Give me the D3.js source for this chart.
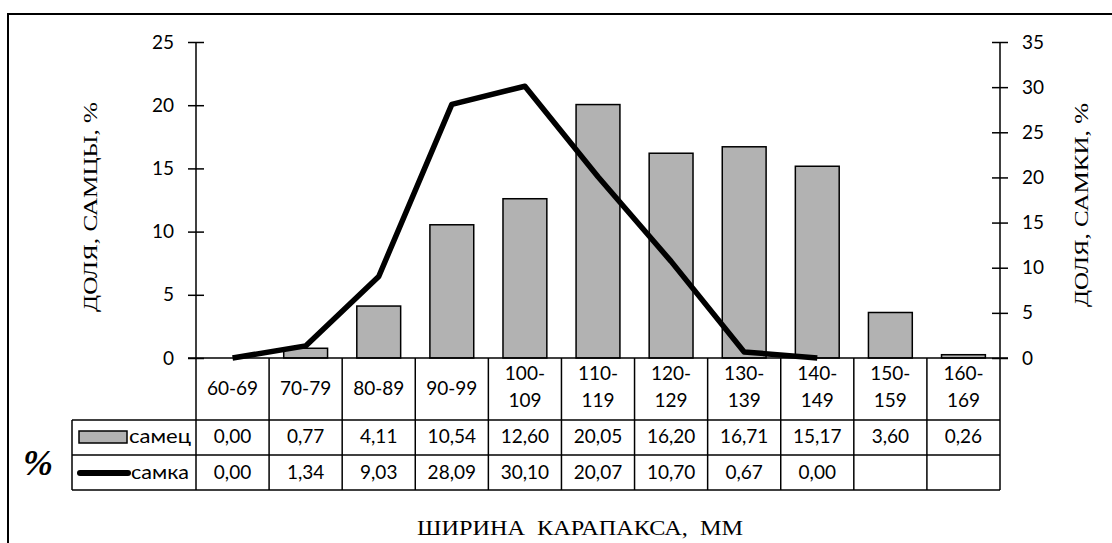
<!DOCTYPE html>
<html><head><meta charset="utf-8">
<script src="https://d3js.org/d3.v7.min.js"></script>
<style>body{margin:0;background:#fff}svg{display:block}
.serif{font-family:"Liberation Serif","Tinos","Times New Roman","DejaVu Serif","Noto Serif",serif}
.sans{font-family:"Lato","Open Sans","Liberation Sans",sans-serif}
.pre{white-space:pre}
</style>
</head><body>
<script>
const categories = ["60-69","70-79","80-89","90-99","100-109","110-119","120-129","130-139","140-149","150-159","160-169"];
const maleValues = [0.00,0.77,4.11,10.54,12.60,20.05,16.20,16.71,15.17,3.60,0.26];
const femaleValues = [0.00,1.34,9.03,28.09,30.10,20.07,10.70,0.67,0.00,null,null];
const maleLabels = ["0,00","0,77","4,11","10,54","12,60","20,05","16,20","16,71","15,17","3,60","0,26"];
const femaleLabels = ["0,00","1,34","9,03","28,09","30,10","20,07","10,70","0,67","0,00","",""];
const leftTicks = [0,5,10,15,20,25];
const rightTicks = [0,5,10,15,20,25,30,35];

const W=1112,H=543;
const svg=d3.select("body").append("svg").attr("width",W).attr("height",H);
const FS=19;

// outer frame
svg.append("rect").attr("x",8).attr("y",14).attr("width",W).attr("height",H).attr("fill","none").attr("stroke","#000").attr("stroke-width",2);

const x0=196,x1=1000,yTop=42,yBot=358;
const x=d3.scaleBand().domain(categories).range([x0,x1]).paddingInner(0.4).paddingOuter(0.2);
const xb=d3.scaleBand().domain(categories).range([x0,x1]);
const yL=d3.scaleLinear().domain([0,25]).range([yBot,yTop]);
const yR=d3.scaleLinear().domain([0,35]).range([yBot,yTop]);

// bars
svg.append("g").selectAll("rect").data(categories).join("rect")
  .attr("x",d=>x(d)).attr("width",x.bandwidth())
  .attr("y",(d,i)=>yL(maleValues[i])).attr("height",(d,i)=>yBot-yL(maleValues[i]))
  .attr("fill","#b2b2b2").attr("stroke","#000").attr("stroke-width",1.5);

// line
const pts=categories.map((c,i)=>[c,femaleValues[i]]).filter(p=>p[1]!==null);
svg.append("path").datum(pts)
  .attr("d",d3.line().x(p=>xb(p[0])+xb.bandwidth()/2).y(p=>yR(p[1])))
  .attr("fill","none").attr("stroke","#000").attr("stroke-width",5.5).attr("stroke-linejoin","round");

// axes
function styleAxis(g){
  g.select(".domain").remove();
  g.selectAll(".tick line").attr("stroke","#000").attr("stroke-width",1.5);
  g.selectAll(".tick text").attr("class","sans").attr("font-family",null).attr("font-size",FS).attr("fill","#000");
}
const gl=svg.append("g").attr("transform",`translate(${x0},0)`)
  .call(d3.axisLeft(yL).tickValues(leftTicks).tickSize(8).tickPadding(14));
styleAxis(gl);
gl.selectAll(".tick line").attr("x1",8);
svg.append("line").attr("x1",x0).attr("x2",x0).attr("y1",yTop).attr("y2",yBot).attr("stroke","#000").attr("stroke-width",1.5);

const gr=svg.append("g").attr("transform",`translate(${x1},0)`)
  .call(d3.axisRight(yR).tickValues(rightTicks).tickSize(8).tickPadding(14));
styleAxis(gr);
gr.selectAll(".tick line").attr("x1",-8);
svg.append("line").attr("x1",x1).attr("x2",x1).attr("y1",yTop).attr("y2",yBot).attr("stroke","#000").attr("stroke-width",1.5);

// baseline
svg.append("line").attr("x1",188).attr("x2",1008).attr("y1",yBot).attr("y2",yBot).attr("stroke","#000").attr("stroke-width",1.5);

// axis titles
svg.append("text").attr("class","serif").attr("transform",`translate(97,207) rotate(-90)`).attr("text-anchor","middle")
  .attr("font-size",18).attr("textLength",210).attr("lengthAdjust","spacingAndGlyphs").text("ДОЛЯ, САМЦЫ, %");
svg.append("text").attr("class","serif").attr("transform",`translate(1088,205) rotate(-90)`).attr("text-anchor","middle")
  .attr("font-size",18).attr("textLength",204).attr("lengthAdjust","spacingAndGlyphs").text("ДОЛЯ, САМКИ, %");
svg.append("text").attr("class","serif pre").attr("x",580).attr("y",535).attr("text-anchor","middle")
  .attr("font-size",20).attr("textLength",326).attr("lengthAdjust","spacingAndGlyphs").text("ШИРИНА  КАРАПАКСА,  ММ");

// data table
const rH=420,r1=455,r2=490,tl=72;
const tg=svg.append("g").attr("stroke","#000").attr("stroke-width",1.5);
tg.append("line").attr("x1",tl).attr("x2",x1).attr("y1",rH).attr("y2",rH);
tg.append("line").attr("x1",tl).attr("x2",x1).attr("y1",r1).attr("y2",r1);
tg.append("line").attr("x1",tl).attr("x2",x1).attr("y1",r2).attr("y2",r2);
tg.append("line").attr("x1",tl).attr("x2",tl).attr("y1",rH).attr("y2",r2);
tg.selectAll(".v").data(categories.concat(["end"])).join("line")
  .attr("x1",(d,i)=>x0+i*xb.step()).attr("x2",(d,i)=>x0+i*xb.step())
  .attr("y1",yBot).attr("y2",r2);

const hdr=svg.append("g").attr("class","sans").attr("font-size",FS).attr("text-anchor","middle");
categories.forEach(c=>{
  const cx=xb(c)+xb.bandwidth()/2;
  const parts=c.split("-");
  if(c.length>5){
    const t=hdr.append("text").attr("x",cx);
    t.append("tspan").attr("x",cx).attr("y",380).text(parts[0]+"-");
    t.append("tspan").attr("x",cx).attr("y",407).text(parts[1]);
  } else {
    hdr.append("text").attr("x",cx).attr("y",395).text(c);
  }
});
svg.append("g").attr("class","sans").attr("font-size",FS).attr("text-anchor","middle")
  .selectAll("text").data(maleLabels).join("text")
  .attr("x",(d,i)=>xb(categories[i])+xb.bandwidth()/2).attr("y",443).text(d=>d);
svg.append("g").attr("class","sans").attr("font-size",FS).attr("text-anchor","middle")
  .selectAll("text").data(femaleLabels).join("text")
  .attr("x",(d,i)=>xb(categories[i])+xb.bandwidth()/2).attr("y",479).text(d=>d);

// legend keys
svg.append("rect").attr("x",79).attr("y",431).attr("width",48).attr("height",12).attr("fill","#b2b2b2").attr("stroke","#000").attr("stroke-width",1.5);
svg.append("text").attr("class","sans").attr("x",129).attr("y",443).attr("font-size",FS).attr("textLength",62).attr("lengthAdjust","spacingAndGlyphs").text("самец");
svg.append("line").attr("x1",80).attr("x2",128).attr("y1",473).attr("y2",473).attr("stroke","#000").attr("stroke-width",6).attr("stroke-linecap","round");
svg.append("text").attr("class","sans").attr("x",131).attr("y",479).attr("font-size",FS).attr("textLength",58).attr("lengthAdjust","spacingAndGlyphs").text("самка");

svg.append("text").attr("class","serif").attr("x",38).attr("y",475).attr("text-anchor","middle")
  .attr("font-style","italic").attr("font-weight","bold").attr("font-size",36).text("%");
</script>
</body></html>
